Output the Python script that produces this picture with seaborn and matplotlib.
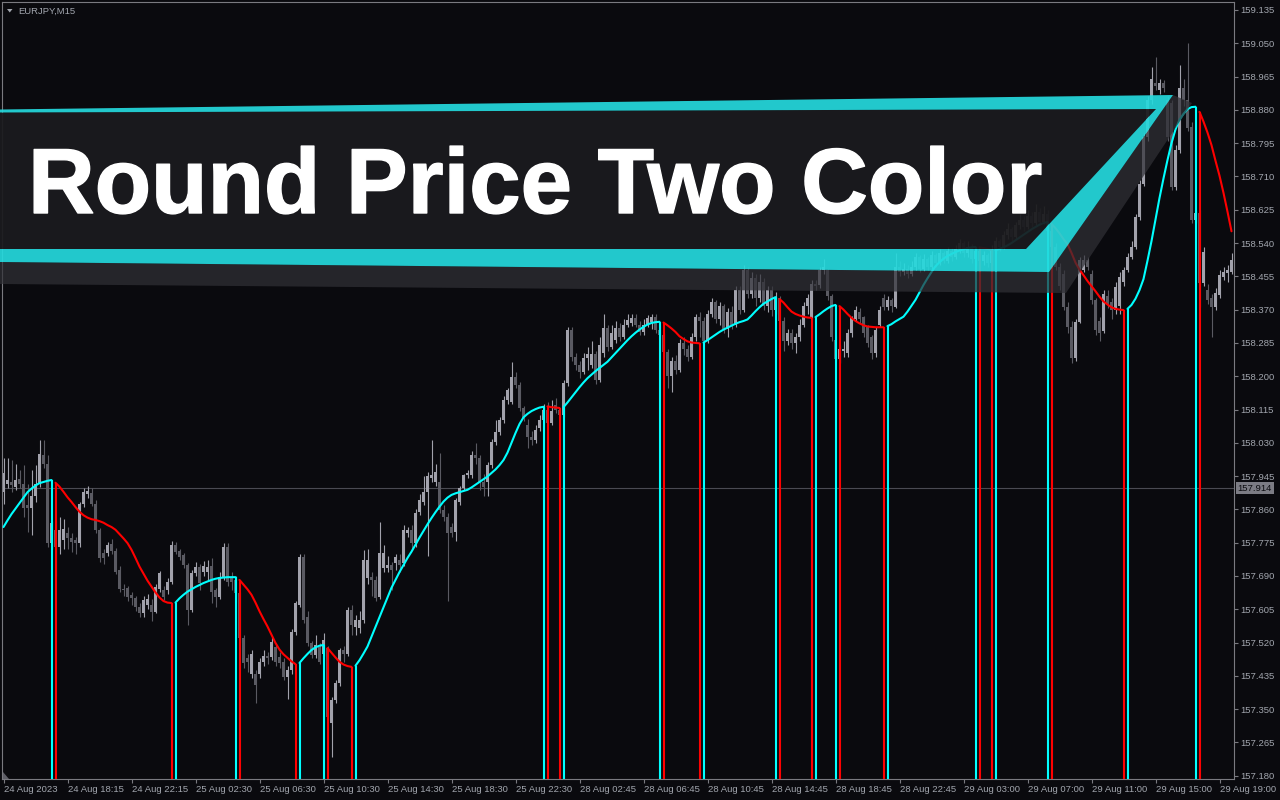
import matplotlib
matplotlib.use("Agg")
import matplotlib.pyplot as plt
from matplotlib.patches import Polygon
import matplotlib.patheffects as pe
import numpy as np
import pandas as pd
import seaborn as sns

# ---------------- data (prices stored in thousandths above BASE) ----------------
BASE = 157.0
symbol_label = "EURJPY,M15"
title_text = "Round Price Two Color"
current_price = 157.914

open_pts = [
    905,926,930,918,937,926,871,863,894,926,
    999,977,775,807,765,782,800,786,782,775,
    875,900,901,875,807,748,748,772,754,705,
    658,660,641,633,612,595,616,616,599,658,
    654,654,675,769,754,743,718,603,697,714,
    701,701,715,654,637,688,763,684,680,646,
    531,480,441,441,441,471,486,484,509,484,
    471,433,450,548,616,739,586,518,488,509,
    492,506,314,373,416,501,492,603,561,556,
    578,684,688,680,637,710,710,718,722,731,
    722,799,807,773,854,880,905,940,931,931,
    858,841,816,803,880,914,948,948,999,990,
    931,931,973,1033,1058,1088,1139,1135,1199,1178,
    1118,1075,1046,1037,1067,1088,1114,1080,1127,1114,
    1101,1182,1318,1250,1229,1212,1246,1229,1258,1190,
    1260,1322,1275,1293,1322,1300,1331,1335,1348,1331,
    1314,1331,1339,1352,1318,1305,1262,1200,1240,1215,
    1285,1270,1250,1300,1350,1340,1290,1360,1390,1345,
    1380,1320,1365,1330,1420,1370,1470,1410,1450,1400,
    1440,1380,1420,1370,1400,1340,1290,1310,1285,1300,
    1330,1380,1350,1435,1433,1470,1470,1405,1293,1245,
    1265,1260,1310,1345,1365,1350,1325,1300,1260,1330,
    1399,1378,1395,1378,1480,1465,1475,1462,1480,1505,
    1475,1500,1480,1510,1490,1515,1495,1520,1505,1525,
    1540,1515,1530,1500,1520,1495,1510,1490,1525,1545,
    1530,1560,1575,1555,1585,1600,1580,1610,1590,1620,
    1595,1615,1570,1530,1480,1462,1378,1326,1246,1339,
    1471,1497,1462,1395,1340,1315,1405,1390,1370,1380,
    1440,1471,1505,1531,1607,1692,1811,1905,1948,1931,
    1948,1905,1897,1684,1778,1935,1905,1837,1599,1616,
    1437,1420,1399,1378,1407,1454,1463,1467,
]
high_pts = [
    990,990,985,975,960,973,926,960,973,1037,
    1037,999,830,830,840,835,815,800,790,880,
    915,920,915,885,812,760,778,785,762,715,
    670,665,650,640,620,640,645,630,670,702,
    665,685,780,778,760,748,722,705,725,720,
    728,730,735,660,700,775,775,700,690,650,
    540,490,500,450,480,500,495,535,520,495,
    480,460,555,625,745,745,600,525,540,520,
    545,510,380,425,505,510,610,615,590,600,
    756,760,700,690,829,770,740,725,745,745,
    820,815,820,860,900,944,955,1037,975,1005,
    870,850,825,890,920,950,960,1010,1029,1000,
    950,980,1040,1088,1095,1150,1170,1237,1210,1185,
    1125,1090,1060,1075,1100,1130,1135,1140,1145,1120,
    1190,1325,1325,1260,1240,1260,1275,1290,1265,1300,
    1360,1330,1330,1340,1335,1345,1360,1360,1360,1340,
    1345,1356,1360,1358,1330,1310,1270,1250,1255,1295,
    1300,1280,1310,1360,1365,1350,1370,1400,1395,1390,
    1385,1375,1380,1430,1430,1485,1480,1465,1460,1460,
    1450,1430,1430,1415,1405,1350,1320,1320,1310,1345,
    1390,1410,1445,1445,1480,1500,1475,1410,1305,1280,
    1290,1320,1355,1380,1375,1355,1330,1305,1325,1380,
    1410,1405,1400,1514,1495,1490,1485,1495,1515,1510,
    1512,1505,1520,1515,1525,1520,1530,1528,1535,1550,
    1545,1545,1538,1530,1525,1520,1515,1535,1555,1550,
    1570,1590,1580,1595,1615,1610,1625,1620,1640,1630,
    1635,1625,1580,1540,1490,1470,1390,1340,1345,1505,
    1510,1505,1470,1400,1350,1420,1420,1400,1440,1465,
    1480,1515,1545,1615,1700,1820,1915,1990,2016,1960,
    1955,1915,1905,1790,1995,1960,2050,1850,1625,1625,
    1530,1435,1410,1425,1470,1480,1485,1515,
]
low_pts = [
    875,915,905,910,915,841,803,795,880,918,
    965,765,760,690,745,760,760,750,745,765,
    865,890,868,800,725,720,740,745,695,648,
    640,625,615,600,585,585,605,575,595,650,
    628,645,670,745,730,710,565,598,690,655,
    690,680,620,610,630,680,665,655,620,520,
    455,445,430,365,430,460,465,475,460,455,
    425,375,440,540,610,570,510,480,480,465,
    485,320,229,365,410,470,485,540,540,545,
    570,670,640,625,630,700,700,654,705,700,
    715,790,756,765,845,870,740,930,920,850,
    830,625,790,780,870,910,940,940,975,910,
    893,893,965,1025,1050,1080,1130,1130,1170,1110,
    1085,1016,1025,1030,1060,1080,1075,1075,1105,1090,
    1095,1175,1240,1215,1195,1205,1215,1222,1180,1185,
    1250,1265,1270,1285,1290,1295,1325,1328,1325,1305,
    1305,1325,1320,1310,1296,1250,1170,1160,1205,1210,
    1255,1240,1245,1290,1300,1280,1285,1350,1335,1330,
    1310,1300,1320,1325,1360,1365,1400,1400,1380,1390,
    1370,1365,1355,1360,1330,1265,1280,1270,1260,1290,
    1325,1360,1345,1420,1425,1460,1395,1290,1240,1235,
    1250,1250,1300,1340,1335,1300,1275,1245,1250,1325,
    1370,1370,1365,1375,1455,1458,1450,1455,1470,1465,
    1468,1470,1475,1480,1485,1488,1490,1495,1500,1515,
    1505,1505,1490,1485,1480,1485,1478,1485,1515,1520,
    1525,1550,1545,1550,1575,1570,1575,1580,1585,1585,
    1588,1560,1520,1470,1420,1370,1310,1235,1240,1335,
    1465,1470,1385,1305,1290,1310,1375,1345,1360,1360,
    1430,1465,1500,1525,1600,1685,1800,1895,1930,1920,
    1925,1800,1675,1675,1770,1890,1825,1590,1590,1378,
    1430,1385,1301,1370,1400,1445,1440,1460,
]
close_pts = [
    952,935,922,935,926,863,863,894,926,1001,
    977,775,824,765,807,810,786,778,773,875,
    905,908,875,807,735,735,769,754,701,658,
    654,637,633,612,595,629,630,599,663,698,
    637,675,769,752,739,718,603,697,714,671,
    715,714,650,637,688,765,675,675,646,531,
    467,471,492,412,471,486,480,522,471,469,
    433,450,548,622,739,578,518,488,514,471,
    526,330,373,416,501,492,603,565,578,578,
    731,731,680,633,748,748,718,705,739,718,
    807,807,773,850,884,905,944,948,956,858,
    841,799,799,884,914,948,952,999,990,927,
    918,973,1033,1058,1088,1139,1165,1199,1178,1118,
    1093,1046,1037,1063,1088,1114,1080,1110,1114,1101,
    1182,1318,1250,1229,1212,1246,1258,1258,1190,1280,
    1322,1275,1310,1322,1300,1331,1344,1348,1331,1314,
    1331,1348,1352,1318,1305,1262,1200,1240,1215,1285,
    1270,1250,1300,1350,1340,1290,1360,1390,1345,1380,
    1320,1365,1330,1420,1370,1470,1410,1450,1400,1440,
    1380,1420,1370,1400,1340,1290,1310,1285,1300,1330,
    1380,1400,1435,1430,1470,1480,1405,1300,1245,1270,
    1270,1310,1350,1370,1345,1310,1285,1260,1318,1369,
    1378,1395,1380,1480,1465,1475,1462,1480,1505,1475,
    1500,1480,1510,1490,1515,1495,1520,1505,1525,1540,
    1515,1530,1500,1520,1495,1510,1490,1525,1545,1530,
    1560,1575,1555,1585,1600,1580,1610,1590,1620,1595,
    1615,1570,1530,1480,1430,1378,1326,1246,1339,1497,
    1497,1480,1395,1318,1310,1410,1385,1370,1428,1454,
    1470,1505,1531,1607,1692,1811,1905,1960,1940,1948,
    1935,1811,1684,1778,1935,1905,1833,1599,1616,1437,
    1518,1395,1378,1412,1458,1467,1471,1497,
]
# smoothed "round price" line
line_pts = [
    815,832,848,862,876,890,904,913,921,927,
    930,933,935,928,918,905,891,879,866,854,
    845,839,835,833,830,826,820,815,808,797,
    786,774,757,736,714,696,678,663,648,635,
    626,622,621,622,633,642,650,656,662,667,
    672,676,680,683,685,686,687,687,687,680,
    668,656,642,622,600,580,561,540,519,502,
    490,481,472,465,468,480,491,501,508,512,
    514,506,494,482,471,464,460,458,461,475,
    492,510,535,560,585,610,635,660,680,700,
    718,736,752,770,788,805,822,838,853,867,
    880,890,897,901,904,907,910,916,923,930,
    937,944,953,962,973,986,1005,1030,1055,1078,
    1095,1104,1111,1116,1120,1122,1123,1121,1120,1119,
    1121,1133,1146,1159,1172,1184,1195,1204,1213,1221,
    1229,1237,1248,1259,1270,1281,1292,1302,1311,1319,
    1326,1332,1336,1338,1339,1337,1330,1322,1313,1302,
    1295,1289,1286,1285,1284,1286,1292,1299,1306,1313,
    1319,1324,1329,1334,1338,1341,1345,1355,1366,1376,
    1385,1391,1397,1402,1397,1388,1376,1365,1359,1355,
    1352,1350,1349,1351,1358,1366,1373,1379,1382,1379,
    1370,1359,1349,1341,1335,1330,1327,1326,1325,1325,
    1325,1328,1333,1340,1346,1352,1365,1380,1395,1414,
    1433,1450,1466,1481,1491,1500,1507,1512,1517,1521,
    1524,1527,1529,1530,1529,1527,1525,1522,1522,1525,
    1529,1534,1540,1547,1554,1561,1568,1575,1581,1587,
    1591,1594,1589,1578,1565,1550,1537,1515,1490,1472,
    1458,1443,1430,1417,1403,1391,1383,1376,1372,1370,
    1369,1372,1382,1398,1420,1448,1495,1545,1600,1655,
    1705,1752,1795,1830,1855,1870,1882,1887,1888,1875,
    1850,1822,1790,1750,1712,1668,1620,1570,
]
# last bar of each colour run
turn_bars = [12, 42, 58, 73, 80, 87, 135, 139, 164, 174, 193, 202, 208, 220, 243, 247, 261, 280, 298]

x_tick_bars = [0, 16, 32, 48, 64, 80, 96, 112, 128, 144, 160, 176, 192, 208, 224, 240, 256, 272, 288, 304]
x_tick_labels = ["24 Aug 2023", "24 Aug 18:15", "24 Aug 22:15", "25 Aug 02:30", "25 Aug 06:30",
                 "25 Aug 10:30", "25 Aug 14:30", "25 Aug 18:30", "25 Aug 22:30", "28 Aug 02:45",
                 "28 Aug 06:45", "28 Aug 10:45", "28 Aug 14:45", "28 Aug 18:45", "28 Aug 22:45",
                 "29 Aug 03:00", "29 Aug 07:00", "29 Aug 11:00", "29 Aug 15:00", "29 Aug 19:00"]
y_tick_labels = ["157.180", "157.265", "157.350", "157.435", "157.520", "157.605", "157.690",
                 "157.775", "157.860", "157.945", "158.030", "158.115", "158.200", "158.285",
                 "158.370", "158.455", "158.540", "158.625", "158.710", "158.795", "158.880",
                 "158.965", "159.050", "159.135"]

# ---------------- style ----------------
BG = "#0a0a0e"
TXT = "#a2a6ae"
BULL = "#a2a2ac"
BEAR = "#5a5a62"
UPC = "#00ffff"
DNC = "#ff0000"
sns.set_theme(style="dark", rc={"axes.facecolor": BG, "figure.facecolor": BG})
plt.rcParams["font.family"] = ["Liberation Sans", "DejaVu Sans"]

n = len(close_pts)
assert all(len(a) == n for a in (open_pts, high_pts, low_pts, line_pts)), \
    [len(a) for a in (open_pts, high_pts, low_pts, close_pts, line_pts)]

df = pd.DataFrame({
    "bar": np.arange(n),
    "open": BASE + np.array(open_pts) / 1000.0,
    "high": BASE + np.array(high_pts) / 1000.0,
    "low": BASE + np.array(low_pts) / 1000.0,
    "close": BASE + np.array(close_pts) / 1000.0,
    "line": BASE + np.array(line_pts) / 1000.0,
})

fig = plt.figure(figsize=(12.8, 8), dpi=100, facecolor=BG)
W, H = 1280, 800
ax = fig.add_axes([2 / W, 1 - 779 / H, 1232 / W, 777 / H])
ax.set_facecolor(BG)
YMIN, YMAX = 157.1717, 159.1554
ax.set_xlim(-0.375, n - 0.375)
ax.set_ylim(YMIN, YMAX)

# candles
bull = df["close"] >= df["open"]
cols = np.where(bull, BULL, BEAR)
ax.vlines(df["bar"], df["low"], df["high"], colors=cols, lw=0.8, zorder=2)
body_lo = np.minimum(df["open"], df["close"])
body_h = np.maximum(np.abs(df["close"] - df["open"]), 0.0014)
ax.bar(df["bar"], body_h, bottom=body_lo, width=0.72, color=cols, linewidth=0, zorder=2)

# current price line
ax.axhline(current_price, color="#4a4a52", lw=0.8, zorder=1)

# two-colour line segments
starts = [0] + [t + 1 for t in turn_bars]
ends = [t for t in turn_bars] + [n - 1]
for k, (s, e) in enumerate(zip(starts, ends)):
    seg = df.iloc[s:e + 1]
    c = UPC if k % 2 == 0 else DNC
    sns.lineplot(data=seg, x="bar", y="line", color=c, lw=1.5, ax=ax,
                 estimator=None, sort=False, legend=False, zorder=4)

# vertical markers at each colour change
for k, t in enumerate(turn_bars):
    c_before = UPC if k % 2 == 0 else DNC
    c_after = DNC if k % 2 == 0 else UPC
    ax.vlines(t, YMIN, df["line"].iloc[t], color=c_before, lw=1.5, zorder=3)
    ax.vlines(t + 1, YMIN, df["line"].iloc[t + 1], color=c_after, lw=1.5, zorder=3)

# axes decoration
for sp in ax.spines.values():
    sp.set_visible(True)
    sp.set_color("#7a7a80")
    sp.set_linewidth(0.8)
ax.grid(False)
ax.set_xlabel("")
ax.set_ylabel("")
ax.yaxis.tick_right()
ax.set_yticks([float(v) for v in y_tick_labels])
ax.set_yticklabels(y_tick_labels)
ax.set_xticks(x_tick_bars)
ax.set_xticklabels(x_tick_labels, ha="left")
ax.tick_params(axis="y", which="both", right=True, left=False, colors="#7a7a80",
               labelcolor=TXT, labelsize=6.8, length=3, width=0.8, pad=1.5)
ax.tick_params(axis="x", which="both", bottom=True, colors="#7a7a80",
               labelcolor=TXT, labelsize=6.8, length=3, width=0.8, pad=1.5)
for lbl in ax.get_xticklabels():
    lbl.set_horizontalalignment("left")

ax.annotate(f"{current_price:.3f}", xy=(1.0, current_price), xycoords=("axes fraction", "data"),
            xytext=(2.5, 0), textcoords="offset points", ha="left", va="center",
            fontsize=6.8, color="#0c0c10",
            bbox=dict(boxstyle="square,pad=0.18", fc="#7c7c84", ec="none"), zorder=6,
            annotation_clip=False)

# ---------------- banner overlay (pixel coordinates) ----------------
ov = fig.add_axes([0, 0, 1, 1], zorder=5)
ov.set_xlim(0, W)
ov.set_ylim(H, 0)
ov.axis("off")
ov.patch.set_alpha(0)

shadow = [(0, 262), (1049, 272), (1173, 95), (1192, 103), (1066, 293), (0, 284)]
ov.add_patch(Polygon(shadow, closed=True, fc="#303036", ec="none", alpha=0.72))
fill = [(0, 112.5), (1156, 109), (1026, 249), (0, 249)]
ov.add_patch(Polygon(fill, closed=True, fc="#1b1b1e", ec="none", alpha=0.94))
cyan_shape = [(0, 109.5), (1173, 95), (1049, 272), (0, 262), (0, 249), (1026, 249),
              (1156, 109), (0, 112.5)]
ov.add_patch(Polygon(cyan_shape, closed=True, fc="#25d9dd", ec="none", alpha=0.92))
ov.text(28, 213, title_text, fontsize=66.5, fontweight="bold", color="white",
        family=["Liberation Sans", "DejaVu Sans"], ha="left", va="baseline",
        path_effects=[pe.withStroke(linewidth=1.0, foreground="white")])

# symbol label, top-left
ov.add_patch(Polygon([(7, 9), (12.5, 9), (9.75, 12.5)], closed=True, fc=TXT, ec="none"))
ov.text(18, 11, symbol_label, fontsize=6.8, color=TXT, ha="left", va="center")
# chart shift marker bottom-left
ov.add_patch(Polygon([(3, 772), (3, 779), (9, 779)], closed=True, fc="#5e5e66", ec="none"))

fig.savefig("out.png", dpi=100, facecolor=BG)
